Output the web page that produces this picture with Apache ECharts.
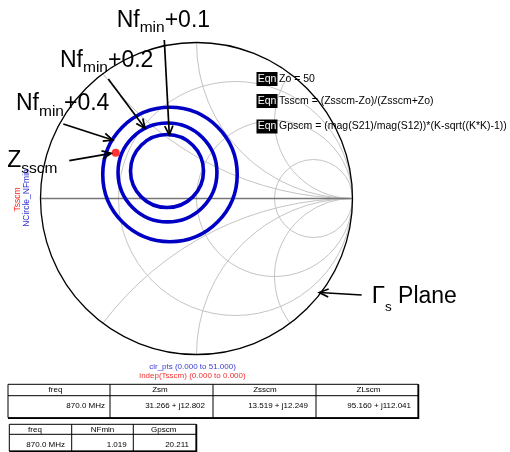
<!DOCTYPE html>
<html>
<head>
<meta charset="utf-8">
<script src="https://cdn.jsdelivr.net/npm/echarts@6/dist/echarts.min.js"></script>
<style>
  html, body { margin: 0; padding: 0; background: #ffffff; }
  #chart { width: 510px; height: 452px; }
</style>
</head>
<body>
<div id="chart"></div>
<script>
// ---- Data: source-side noise circles at 870 MHz on the source reflection plane ----
const Z0 = 50;
const freqLabel = '870.0 MHz';
const zsm   = [31.266, 12.802];   // optimum noise source impedance (re, im)
const zsscm = [13.519, 12.249];   // simultaneous-match source impedance
const zlscm = [95.160, 112.041];  // simultaneous-match load impedance
const nfMin = 1.019;
const gpscm = 20.211;

// Noise-figure circles (Nf_min + offset), centre and radius in reflection-coefficient units
const noiseOffsets   = ['+0.1', '+0.2', '+0.4'];
const circleCentreRe = [-0.189, -0.186, -0.170];
const circleCentreIm = [0.176, 0.167, 0.154];
const circleRadius   = [0.234, 0.317, 0.431];

// Smith chart grid: constant-resistance circles and constant-reactance arcs (normalised)
const resistanceCircles = [0.3333, 1, 3];
const reactanceArcs     = [0.5, 1, 2, -0.5, -1, -2];

// Table contents
const table1Header = ['freq', 'Zsm', 'Zsscm', 'ZLscm'];
const table2Header = ['freq', 'NFmin', 'Gpscm'];

// ---- helpers ----
const FONT = "'Liberation Sans', Arial, Helvetica, sans-serif";
const SERIF = "'Liberation Serif', 'Times New Roman', serif";
const measureCtx = document.createElement('canvas').getContext('2d');
function textWidth(str, size, family) {
  measureCtx.font = size + 'px ' + (family || FONT);
  return measureCtx.measureText(str).width;
}
function fmtZ(z) {
  return z[0].toFixed(3) + ' + j' + z[1].toFixed(3);
}
function toGamma(z) {
  // (Z - Z0) / (Z + Z0)
  const nr = z[0] - Z0, ni = z[1];
  const dr = z[0] + Z0, di = z[1];
  const d = dr * dr + di * di;
  return [(nr * dr + ni * di) / d, (ni * dr - nr * di) / d];
}
function text(x, y, str, size, color, align, family, extra) {
  return Object.assign({
    type: 'text', x: x, y: y, z: 20, silent: true,
    style: {
      text: str, fontSize: size, fontFamily: family || FONT, fill: color || '#000',
      align: align || 'left', verticalAlign: 'middle',
      textAlign: align || 'left', textVerticalAlign: 'middle'
    }
  }, extra || {});
}
// A label with a subscript: segments of [string, size, baselineY, family]
function subLabel(x0, segs) {
  const out = [];
  let x = x0;
  segs.forEach(function (s) {
    const size = s[1], fam = s[3] || FONT;
    out.push(text(x, s[2] - 0.3465 * size, s[0], size, '#000', 'left', fam));
    x += textWidth(s[0], size, fam);
  });
  return out;
}
function arrow(x1, y1, x2, y2) {
  const a = Math.atan2(y2 - y1, x2 - x1);
  const L = 10, spread = 0.42;
  return [
    { type: 'polyline', z: 15, silent: true, shape: { points: [[x1, y1], [x2, y2]] },
      style: { stroke: '#000', lineWidth: 1.7, fill: null } },
    { type: 'polyline', z: 15, silent: true,
      shape: { points: [
        [x2 - L * Math.cos(a - spread), y2 - L * Math.sin(a - spread)],
        [x2, y2],
        [x2 - L * Math.cos(a + spread), y2 - L * Math.sin(a + spread)]
      ] },
      style: { stroke: '#000', lineWidth: 1.7, fill: null } }
  ];
}
function tableGraphics(xs, ys, header, headerX, rowsRight, rowVals, headY, rowY) {
  const els = [];
  const x0 = xs[0], x1 = xs[xs.length - 1], y0 = ys[0], y2 = ys[ys.length - 1];
  els.push({ type: 'rect', z: 5, silent: true, shape: { x: x0, y: y0, width: x1 - x0, height: y2 - y0 },
             style: { fill: '#fff', stroke: '#000', lineWidth: 1 } });
  // heavier right and bottom edge
  els.push({ type: 'polyline', z: 6, silent: true, shape: { points: [[x1 + 0.5, y0], [x1 + 0.5, y2 + 0.5], [x0, y2 + 0.5]] },
             style: { stroke: '#000', lineWidth: 1.5, fill: null } });
  for (let i = 1; i < ys.length - 1; i++) {
    els.push({ type: 'line', z: 6, silent: true, shape: { x1: x0, y1: ys[i], x2: x1, y2: ys[i] },
               style: { stroke: '#000', lineWidth: 1 } });
  }
  for (let i = 1; i < xs.length - 1; i++) {
    els.push({ type: 'line', z: 6, silent: true, shape: { x1: xs[i], y1: y0, x2: xs[i], y2: y2 },
               style: { stroke: '#000', lineWidth: 1 } });
  }
  header.forEach(function (h, i) { els.push(text(headerX[i], headY, h, 8, '#000', 'center')); });
  rowVals.forEach(function (v, i) { els.push(text(rowsRight[i], rowY, v, 8, '#000', 'right')); });
  return els;
}

// ---- Smith chart grid items ----
const gridData = [];
gridData.push([0, 0]);   // outer boundary |Γ| = 1
resistanceCircles.forEach(function (r) { gridData.push([0, r]); });
reactanceArcs.forEach(function (x) { gridData.push([1, x]); });
gridData.push([2, 0]);   // real axis

function renderGrid(params, api) {
  const kind = api.value(0), v = api.value(1);
  if (kind === 0) {
    const c = api.coord([v / (1 + v), 0]);
    const rad = api.size([1 / (1 + v), 0])[0];
    const outer = v === 0;
    return { type: 'circle', shape: { cx: c[0], cy: c[1], r: rad },
             style: { fill: 'none', stroke: outer ? '#000' : '#c4c4c4', lineWidth: outer ? 1.3 : 1 },
             z2: outer ? 3 : 1 };
  }
  if (kind === 2) {
    const a = api.coord([-1, 0]), b = api.coord([1, 0]);
    return { type: 'line', shape: { x1: a[0], y1: a[1], x2: b[0], y2: b[1] },
             style: { stroke: '#777', lineWidth: 1.6 }, z2: 2 };
  }
  const c = api.coord([1, 1 / v]);
  const rad = api.size([1 / Math.abs(v), 0])[0];
  const e = api.coord([(v * v - 1) / (v * v + 1), 2 * v / (v * v + 1)]);
  const p = api.coord([1, 0]);
  const a1 = Math.atan2(p[1] - c[1], p[0] - c[0]);
  const a2 = Math.atan2(e[1] - c[1], e[0] - c[0]);
  let d = a2 - a1;
  while (d > Math.PI) d -= 2 * Math.PI;
  while (d < -Math.PI) d += 2 * Math.PI;
  const start = d > 0 ? a1 : a2;
  return { type: 'arc', shape: { cx: c[0], cy: c[1], r: rad, startAngle: start, endAngle: start + Math.abs(d), clockwise: true },
           style: { fill: 'none', stroke: '#c4c4c4', lineWidth: 1 }, z2: 1 };
}

function renderNoiseCircle(params, api) {
  const c = api.coord([api.value(0), api.value(1)]);
  const rad = api.size([api.value(2), 0])[0];
  return { type: 'circle', shape: { cx: c[0], cy: c[1], r: rad },
           style: { fill: 'none', stroke: '#0000c4', lineWidth: 3.6 } };
}

const noiseData = circleCentreRe.map(function (re, i) { return [re, circleCentreIm[i], circleRadius[i]]; });
const gammaSscm = toGamma(zsscm);

// ---- annotations ----
const g = [];
noiseOffsets.forEach(function () {});
[].push.apply(g, subLabel(116.7, [['Nf', 23, 28.3], ['min', 15.5, 33.3], [noiseOffsets[0], 23, 28.3]]));
[].push.apply(g, subLabel(60,    [['Nf', 23, 68.3], ['min', 15.5, 73.3], [noiseOffsets[1], 23, 68.3]]));
[].push.apply(g, subLabel(16,    [['Nf', 23, 111.7], ['min', 15.5, 116.7], [noiseOffsets[2], 23, 111.7]]));
[].push.apply(g, subLabel(7.3,   [['Z', 23, 168.3], ['sscm', 15.5, 174.5]]));
[].push.apply(g, subLabel(371.7, [['\u0393', 24, 305], ['s', 13.5, 311.5], [' Plane', 23, 305]]));
[].push.apply(g, arrow(164.3, 40, 169.3, 135));
[].push.apply(g, arrow(108.3, 79, 145, 128.3));
[].push.apply(g, arrow(63.3, 124, 112.7, 140));
[].push.apply(g, arrow(69.3, 160.7, 111.2, 153.3));
[].push.apply(g, arrow(361.7, 295, 319.3, 292.5));

// equation blocks
const eqnLines = ['Zo = 50', 'Tsscm = (Zsscm-Zo)/(Zsscm+Zo)', 'Gpscm = (mag(S21)/mag(S12))*(K-sqrt((K*K)-1))'];
const eqnY = [79, 101, 126.5];
eqnLines.forEach(function (s, i) {
  g.push({ type: 'rect', z: 18, silent: true, shape: { x: 256.5, y: eqnY[i] - 7, width: 21, height: 14 }, style: { fill: '#000' } });
  g.push(text(267, eqnY[i], 'Eqn', 10.5, '#fff', 'center'));
  g.push(text(279, eqnY[i], s, 10.5, '#000', 'left'));
});

// rotated trace names
g.push(text(17.5, 199.5, 'Tsscm', 8.5, '#ff2020', 'center', FONT, { rotation: Math.PI / 2 }));
g.push(text(26.5, 198, 'NCircle_NFmin', 8.5, '#3030d0', 'center', FONT, { rotation: Math.PI / 2 }));

// sweep labels
g.push(text(192.5, 367, 'cir_pts (0.000 to 51.000)', 8, '#3b3bd6', 'center'));
g.push(text(192.5, 376, 'indep(Tsscm) (0.000 to 0.000)', 8, '#f03030', 'center'));

// tables
[].push.apply(g, tableGraphics([8, 110, 213, 316, 418], [384.3, 395.7, 417.7], table1Header,
  [55.5, 160, 265, 368.5], [105, 205, 308, 411], [freqLabel, fmtZ(zsm), fmtZ(zsscm), fmtZ(zlscm)], 390, 406.2));
[].push.apply(g, tableGraphics([9.3, 71.7, 133.3, 196], [424.3, 434.3, 451], table2Header,
  [35, 102.5, 163.7], [65, 126.7, 189], [freqLabel, nfMin.toFixed(3), gpscm.toFixed(3)], 429.6, 445));

const chart = echarts.init(document.getElementById('chart'), null, { renderer: 'canvas' });
chart.setOption({
  animation: false,
  backgroundColor: '#fff',
  grid: { left: 40.5, top: 42.5, width: 312, height: 312, containLabel: false },
  xAxis: { type: 'value', min: -1, max: 1, show: false },
  yAxis: { type: 'value', min: -1, max: 1, show: false },
  series: [
    { type: 'custom', name: 'grid', data: gridData, renderItem: renderGrid, clip: false, silent: true, z: 1 },
    { type: 'custom', name: 'NCircle_NFmin', data: noiseData, renderItem: renderNoiseCircle, clip: false, silent: true, z: 3 },
    { type: 'scatter', name: 'Tsscm', data: [gammaSscm], symbol: 'circle', symbolSize: 8,
      itemStyle: { color: '#ff0000' }, silent: true, z: 4 }
  ],
  graphic: { elements: g }
});
</script>
</body>
</html>
